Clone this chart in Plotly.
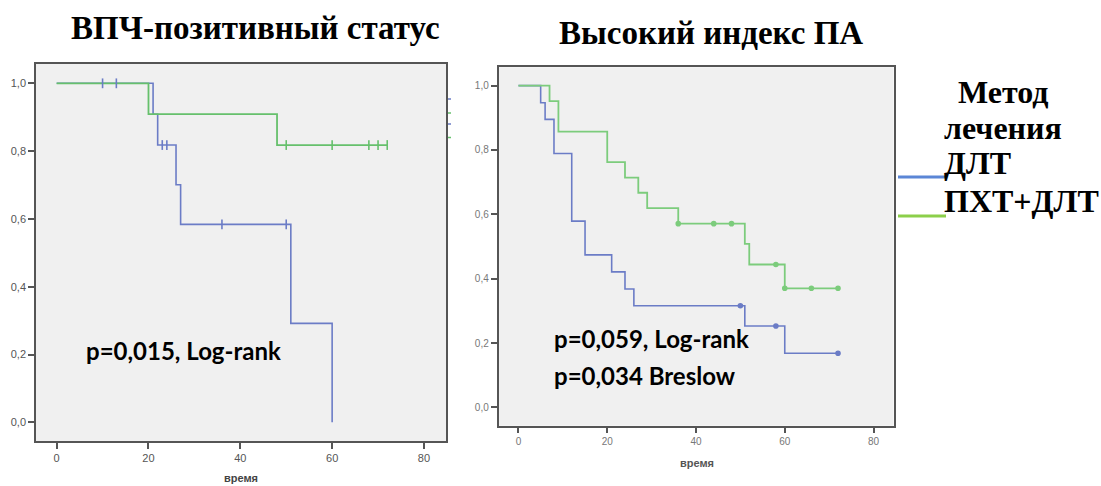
import plotly.graph_objects as go

W, H = 1101, 486

# ---------------- data ----------------
# Left panel: ВПЧ-позитивный статус
L_dlt_t = [0, 21, 22, 26, 27, 51, 60]
L_dlt_s = [1.0, 0.909, 0.818, 0.701, 0.584, 0.292, 0.0]
L_dlt_cens_t = [10, 13, 23, 24, 36, 50]
L_dlt_cens_s = [1.0, 1.0, 0.818, 0.818, 0.584, 0.584]

L_pxt_t = [0, 20, 48, 72]
L_pxt_s = [1.0, 0.909, 0.818, 0.818]
L_pxt_cens_t = [50, 60, 68, 70, 72]
L_pxt_cens_s = [0.818, 0.818, 0.818, 0.818, 0.818]

# Right panel: Высокий индекс ПА
R_dlt_t = [0, 5, 6, 8, 12, 15, 21, 24, 26, 51, 60, 72]
R_dlt_s = [1.0, 0.947, 0.895, 0.789, 0.579, 0.474, 0.421, 0.368, 0.316, 0.253, 0.168, 0.168]
R_dlt_cens_t = [50, 58, 72]
R_dlt_cens_s = [0.316, 0.253, 0.168]

R_pxt_t = [0, 7, 9, 20, 24, 27, 29, 36, 51, 52, 60, 72]
R_pxt_s = [1.0, 0.952, 0.857, 0.762, 0.714, 0.667, 0.619, 0.571, 0.508, 0.444, 0.370, 0.370]
R_pxt_cens_t = [36, 44, 48, 58, 60, 66, 72]
R_pxt_cens_s = [0.571, 0.571, 0.571, 0.444, 0.370, 0.370, 0.370]

x_ticks = [0, 20, 40, 60, 80]
y_ticks = [0.0, 0.2, 0.4, 0.6, 0.8, 1.0]
y_tick_text = ["0,0", "0,2", "0,4", "0,6", "0,8", "1,0"]

titles = ["ВПЧ-позитивный статус", "Высокий индекс ПА"]
x_title = "время"
legend_title = ["Метод", "лечения"]
groups = ["ДЛТ", "ПХТ+ДЛТ"]
pvals_left = ["p=0,015, Log-rank"]
pvals_right = ["p=0,059, Log-rank", "p=0,034 Breslow"]

BLUE = "#6b7cc6"
GREEN = "#66c06c"
GREEN_R = "#7ccc7c"


def px(x):
    return x / W


def py(y):
    return 1 - y / H


fig = go.Figure()


def add_curve(t, s, ct, cs, color, xa, ya, sym, msize, lw):
    fig.add_trace(go.Scatter(x=t, y=s, mode="lines", line=dict(color=color, width=lw, shape="hv"),
                             xaxis=xa, yaxis=ya, showlegend=False, hoverinfo="skip"))
    return (ct, cs, color, xa, ya, sym, msize)


marks = []
marks.append(add_curve(L_dlt_t, L_dlt_s, L_dlt_cens_t, L_dlt_cens_s, BLUE, "x", "y", "line-ns", 7, 1.6))
marks.append(add_curve(L_pxt_t, L_pxt_s, L_pxt_cens_t, L_pxt_cens_s, GREEN, "x", "y", "line-ns", 7, 1.8))
marks.append(add_curve(R_dlt_t, R_dlt_s, R_dlt_cens_t, R_dlt_cens_s, BLUE, "x2", "y2", "circle", 4, 1.6))
marks.append(add_curve(R_pxt_t, R_pxt_s, R_pxt_cens_t, R_pxt_cens_s, GREEN_R, "x2", "y2", "circle", 4, 1.8))

for ct, cs, color, xa, ya, sym, ms in marks:
    fig.add_trace(go.Scatter(x=ct, y=cs, mode="markers",
                             marker=dict(symbol=sym, size=ms, color=color,
                                         line=dict(color=color, width=1.6)),
                             xaxis=xa, yaxis=ya, showlegend=False, hoverinfo="skip"))

axis_common = dict(showgrid=False, zeroline=False, showline=True, mirror=True,
                   linecolor="#555555", linewidth=1.5, ticks="outside", ticklen=6,
                   tickcolor="#555555", tickwidth=1.5)

fig.update_layout(
    width=W, height=H, autosize=False,
    margin=dict(l=0, r=0, t=0, b=0),
    paper_bgcolor="white",
    plot_bgcolor="#f0f0f0",
    xaxis=dict(domain=[px(36), px(446)], range=[-4.5, 84.8], tickvals=x_ticks, anchor="y",
               tickfont=dict(family="Liberation Sans, Arial", size=11, color="#555555"), **axis_common),
    yaxis=dict(domain=[py(441), py(64)], range=[-0.055, 1.057], tickvals=y_ticks, ticktext=y_tick_text,
               anchor="x", tickfont=dict(family="Liberation Sans, Arial", size=11, color="#555555"),
               **axis_common),
    xaxis2=dict(domain=[px(498.5), px(893.5)], range=[-4.5, 84.5], tickvals=x_ticks, anchor="y2",
                tickfont=dict(family="Liberation Sans, Arial", size=10, color="#777777"), **axis_common),
    yaxis2=dict(domain=[py(425.7), py(67.3)], range=[-0.057, 1.057], tickvals=y_ticks, ticktext=y_tick_text,
                anchor="x2", tickfont=dict(family="Liberation Sans, Arial", size=10, color="#777777"),
                **axis_common),
)

ann = []
serif = "Liberation Serif, Times New Roman, serif"
ann.append(dict(x=px(255), y=py(28), text="<b>%s</b>" % titles[0], font=dict(family=serif, size=33, color="black")))
ann.append(dict(x=px(711), y=py(33), text="<b>%s</b>" % titles[1], font=dict(family=serif, size=33, color="black")))
ann.append(dict(x=px(241), y=py(478), text="<b>%s</b>" % x_title, font=dict(family="Liberation Sans, Arial", size=11, color="#444444")))
ann.append(dict(x=px(697), y=py(463), text="<b>%s</b>" % x_title, font=dict(family="Liberation Sans, Arial", size=11, color="#555555")))

sans = "Lato, Open Sans, sans-serif"
ann.append(dict(x=px(84), y=py(350), text="<b>%s</b>" % pvals_left[0], xanchor="left", font=dict(family=sans, size=24, color="black")))
ann.append(dict(x=px(552), y=py(338), text="<b>%s</b>" % pvals_right[0], xanchor="left", font=dict(family=sans, size=24, color="black")))
ann.append(dict(x=px(552), y=py(375), text="<b>%s</b>" % pvals_right[1], xanchor="left", font=dict(family=sans, size=24, color="black")))

ann.append(dict(x=px(1003), y=py(92), text="<b>%s</b>" % legend_title[0], font=dict(family=serif, size=32, color="black")))
ann.append(dict(x=px(1003), y=py(128), text="<b>%s</b>" % legend_title[1], font=dict(family=serif, size=32, color="black")))
ann.append(dict(x=px(942), y=py(163), text="<b>%s</b>" % groups[0], xanchor="left", font=dict(family=serif, size=32, color="black")))
ann.append(dict(x=px(942), y=py(201), text="<b>%s</b>" % groups[1], xanchor="left", font=dict(family=serif, size=32, color="black")))

for a in ann:
    a.update(xref="paper", yref="paper", showarrow=False, yanchor="middle", **({} if "xanchor" in a else {"xanchor": "center"}))
fig.update_layout(annotations=ann)

shapes = [
    dict(type="line", xref="paper", yref="paper", x0=px(898), x1=px(946), y0=py(177), y1=py(177),
         line=dict(color="#5b86d6", width=3)),
    dict(type="line", xref="paper", yref="paper", x0=px(898), x1=px(946), y0=py(216), y1=py(216),
         line=dict(color="#8ccf4a", width=3)),
]
# small remnants of the original legend swatches
for yy, c in [(99, BLUE), (113, GREEN), (124, BLUE), (137.5, GREEN)]:
    shapes.append(dict(type="line", xref="paper", yref="paper", x0=px(448), x1=px(451), y0=py(yy), y1=py(yy),
                       line=dict(color=c, width=1.5)))
fig.update_layout(shapes=shapes)

fig.write_html("out.html", config={"displayModeBar": False},
               post_script="document.body.style.margin='0';document.body.style.overflow='hidden';")
